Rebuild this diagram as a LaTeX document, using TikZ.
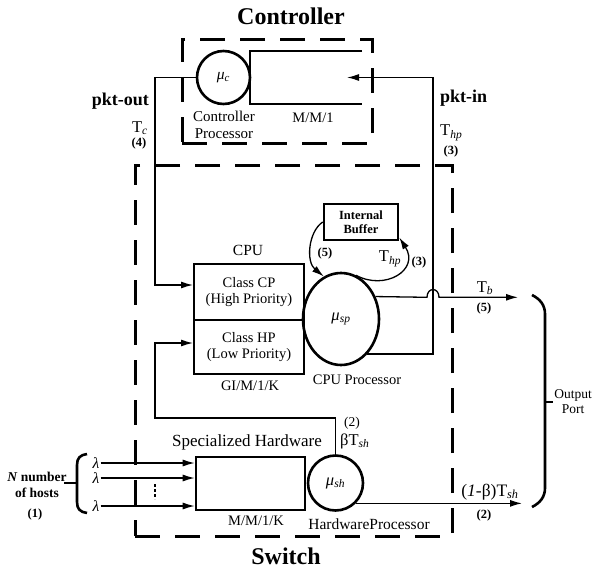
\documentclass[tikz,border=0pt]{standalone}
\usepackage{fontspec}
\setmainfont{Liberation Serif}
\usetikzlibrary{arrows.meta,shapes.geometric}
\newcommand{\sbi}[1]{\textsubscript{\textit{#1}}}
\begin{document}
\begin{tikzpicture}[x=1pt,y=-1pt,
  thinln/.style={line width=1.3pt},
  thickln/.style={line width=2.6pt},
  dashbox/.style={draw,line width=3pt,dash pattern=on 25pt off 15pt,inner sep=0pt},
  arr/.style={thinln,-{Latex[length=12pt,width=7pt]}},
  box/.style={draw,thickln,inner sep=0pt,align=center},
  proc/.style={draw,thickln,inner sep=0pt},
  fb/.style={font=\fontsize{13.5}{15}\selectfont},
  fc/.style={font=\fontsize{14.5}{16.5}\selectfont},
  fd/.style={font=\fontsize{15.5}{17}\selectfont},
  fe/.style={font=\fontsize{16.5}{18}\selectfont},
  fbold/.style={font=\fontsize{12.5}{14}\selectfont\bfseries},
  fpkt/.style={font=\fontsize{18}{20}\selectfont\bfseries},
  ftitle/.style={font=\fontsize{24}{28}\selectfont\bfseries},
  lab/.style={inner sep=1pt}]
\useasboundingbox (0,0) rectangle (596,575);
\fill[white] (0,0) rectangle (596,575);

% titles
\node[ftitle] (tctrl) at (291,16) {Controller};
\node[ftitle] (tsw) at (286,556) {Switch};

% dashed boxes
\node[dashbox,minimum width=190pt,minimum height=103pt] (cbox) at (277,91.5) {};
\node[dashbox,minimum width=317pt,minimum height=371pt] (sbox) at (293.5,350.5) {};

% controller
\draw[thickln] (362,51) -- (250,51) -- (250,104) -- (362,104);
\node[proc,circle,minimum size=53pt,fd] (muc) at (223.5,77.5) {\textit{μ}\sbi{c}};
\node[font=\fontsize{15}{16.5}\selectfont,align=center,lab] (cproc) at (224,125) {Controller\\Processor};
\node[fc,lab] (mm1) at (313,118) {M/M/1};

% CPU
\node[box,minimum width=110pt,minimum height=56pt,fc] (cp) at (249,292) {Class CP\\(High Priority)};
\node[box,minimum width=110pt,minimum height=54pt,fc] (hp) at (249,347) {Class HP\\(Low Priority)};
\node[fd,lab] (cpu) at (248,250) {CPU};
\node[fc,lab] (gim) at (250,386) {GI/M/1/K};
\node[proc,ellipse,minimum width=76pt,minimum height=92pt,fe] (musp) at (341,319) {\textit{μ}\sbi{sp}};
\node[fc,lab] (cpuproc) at (357,380) {CPU Processor};
\node[box,minimum width=74pt,minimum height=36pt,fbold] (ib) at (361,222) {Internal\\Buffer};

% hardware
\node[box,minimum width=109pt,minimum height=53pt] (hw) at (250.5,483.5) {};
\node[proc,circle,minimum size=55pt,fe] (mush) at (335.5,483) {\textit{μ}\sbi{sh}};
\node[font=\fontsize{17}{19}\selectfont,lab] (spec) at (247,442) {Specialized Hardware};
\node[fc,lab] (mm1k) at (256,521) {M/M/1/K};
\node[font=\fontsize{15.5}{17}\selectfont,lab] (hwproc) at (369,524) {HardwareProcessor};

% hosts
\node[fd,lab] (l1) at (96,463) {\textit{λ}};
\node[fd,lab] (l2) at (96,478) {\textit{λ}};
\node[fd,lab] (l3) at (96,506) {\textit{λ}};
\draw[line width=1.6pt,dash pattern=on 2.5pt off 2.5pt] (155,484) -- (155,499);
\draw[arr] (l1.east) -- (l1.east -| hw.west);
\draw[arr] (l2.east) -- (l2.east -| hw.west);
\draw[arr] (l3.east) -- (l3.east -| hw.west);
\draw[thickln] (87,454) .. controls (80,455) and (77,458) .. (77,465) -- (77,502) .. controls (77,509) and (80,512) .. (87,513);
\draw[thickln] (64,483) -- (77,483);
\node[font=\fontsize{13.5}{16}\selectfont\bfseries,align=center,lab] (nhosts) at (37,485) {\textit{N} number\\of hosts};
\node[fbold,lab] (one) at (35,514) {(1)};

% pkt-out
\coordinate (po1) at (155,77.5);
\coordinate (cpin) at (193,285);
\draw[arr] (muc.west) -- (po1) |- (cpin);
\node[fpkt,anchor=east,lab] (pktout) at (150,101) {pkt-out};
\node[fe,anchor=east,lab] (tc) at (149,128) {T\sbi{c}};
\node[fbold,lab] (four) at (139,143) {(4)};

% pkt-in
\coordinate (pi2) at (433,77.5);
\coordinate (pi3) at (347,77.5);
\draw[arr] (musp.-53) -- (musp.-53 -| pi2) |- (pi3);
\node[fpkt,anchor=west,lab] (pktin) at (439,98) {pkt-in};
\node[fe,anchor=west,lab] (thp1) at (439,133) {T\sbi{hp}};
\node[fbold,lab] (three1) at (451,151) {(3)};

% T_b with hop
\coordinate (h1) at (427,297.3);
\coordinate (h1c) at (427,287);
\coordinate (h2c) at (439,287);
\coordinate (h2) at (439,297.3);
\coordinate (tbend) at (518,297.3);
\draw[arr] (musp.33) -- (h1) .. controls (h1c) and (h2c) .. (h2) -- (tbend);
\node[fe,lab] (tb) at (485,288) {T\sbi{b}};
\node[fbold,lab] (five2) at (484,308) {(5)};

% internal buffer loops
\draw[arr] (ib.west) .. controls (308,232) and (306,262) .. (musp.112);
\draw[arr] (musp.71) .. controls (385,291) and (420,270) .. (ib.-22);
\node[fbold,lab] (five1) at (325,253) {(5)};
\node[fe,lab] (thp2) at (390,259) {T\sbi{hp}};
\node[fbold,lab] (three2) at (419,262) {(3)};

% HP feedback
\coordinate (hpc) at (155,418);
\coordinate (hpin) at (193,343);
\draw[arr] (mush.north) |- (hpc) |- (hpin);
\node[fb,lab] (two1) at (352,423) {(2)};
\node[fe,anchor=west,lab] (bts) at (339,441) {βT\sbi{sh}};

% output
\coordinate (shend) at (522,503);
\draw[arr] (mush.-45) -- (mush.-45 -| shend);
\node[font=\fontsize{17.5}{19}\selectfont,lab] (obts) at (490,492) {(\textit{1}-β)T\sbi{sh}};
\node[fbold,lab] (two2) at (484,515) {(2)};

% output port
\draw[thickln] (532,295) .. controls (540,299) and (545,305) .. (545,314) -- (545,488) .. controls (545,497) and (540,503) .. (532,507);
\draw[thickln] (545,402) -- (553,402);
\node[fb,align=center,lab] (oport) at (573,402) {Output\\Port};
\end{tikzpicture}
\end{document}
